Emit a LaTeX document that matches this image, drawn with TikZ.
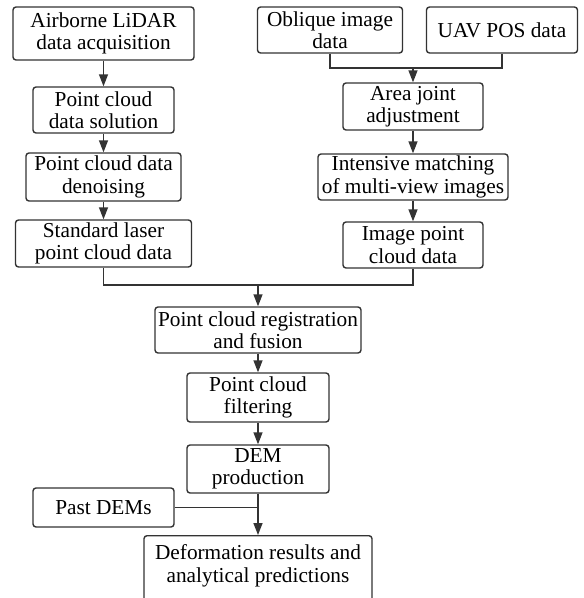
\documentclass[tikz,border=0pt]{standalone}
\usepackage{fontspec}
\setmainfont{Liberation Serif}
\usetikzlibrary{positioning,arrows.meta}

\begin{document}
\begin{tikzpicture}[x=1pt,y=1pt,node distance=70pt,on grid,font=\fontsize{21.3}{22.5}\selectfont]
        \tikzstyle{box}=[draw=black!80,line width=1.4pt,rounded corners=3pt,align=center,inner sep=0pt]
        \tikzstyle{link}=[draw=black!80,line width=1.4pt]
        \tikzstyle{flow}=[link,-{Triangle[length=12pt,width=9pt]}]
        \useasboundingbox (0,0) rectangle (584,-598);
        % left column: LiDAR
        \node[box,minimum width=181pt,minimum height=53pt] (acq) at (103.5,-33.5) {Airborne LiDAR\\data acquisition};
        \node[box,minimum width=141pt,minimum height=46pt] (solu) [below=76.5pt of acq] {Point cloud\\data solution};
        \node[box,minimum width=155pt,minimum height=48pt] (denoise) [below=67pt of solu] {Point cloud data\\denoising};
        \node[box,minimum width=176pt,minimum height=47pt] (laser) [below=66.5pt of denoise] {Standard laser\\point cloud data};
        % right column: images
        \node[box,minimum width=145pt,minimum height=46pt] (oblique) at (330,-30) {Oblique image\\data};
        \node[box,minimum width=151pt,minimum height=46pt] (pos) [right=172pt of oblique] {UAV POS data};
        \node[box,minimum width=140pt,minimum height=47pt] (adjust) at (413,-106.5) {Area joint\\adjustment};
        \node[box,minimum width=190pt,minimum height=46pt] (match) [below=70.5pt of adjust] {Intensive matching\\of multi-view images};
        \node[box,minimum width=140pt,minimum height=46pt] (imgcloud) [below=68pt of match] {Image point\\cloud data};
        % middle: fusion and DEM
        \node[box,minimum width=206pt,minimum height=46pt] (fusion) at (258,-330) {Point cloud registration\\and fusion};
        \node[box,minimum width=142pt,minimum height=49pt] (filter) [below=67.5pt of fusion] {Point cloud\\filtering};
        \node[box,minimum width=142pt,minimum height=48pt] (dem) [below=71.5pt of filter] {DEM\\production};
        \node[box,minimum width=141pt,minimum height=39pt] (past) at (103.5,-507.5) {Past DEMs};
        \node[box,minimum width=228pt,text depth=40pt,anchor=north,inner xsep=6pt,inner ysep=9pt] (result) at (258,-535) {Deformation results and\\analytical predictions};
        \coordinate (joinR) at (413,-68);
        \coordinate (joinC) at (258,-285);
        \draw[link] (oblique) |- (joinR) -| (pos);
        \draw[link] (laser) |- (joinC) -| (imgcloud);
        \draw[link] (past.east) -- (past.east -| dem.south);
        \draw[flow] (acq) -- (solu);
        \draw[flow] (solu) -- (denoise);
        \draw[flow] (denoise) -- (laser);
        \draw[flow] (joinR) -- (adjust);
        \draw[flow] (adjust) -- (match);
        \draw[flow] (match) -- (imgcloud);
        \draw[flow] (joinC) -- (fusion);
        \draw[flow] (fusion) -- (filter);
        \draw[flow] (filter) -- (dem);
        \draw[flow] (dem) -- (result);
    \end{tikzpicture}
\end{document}
